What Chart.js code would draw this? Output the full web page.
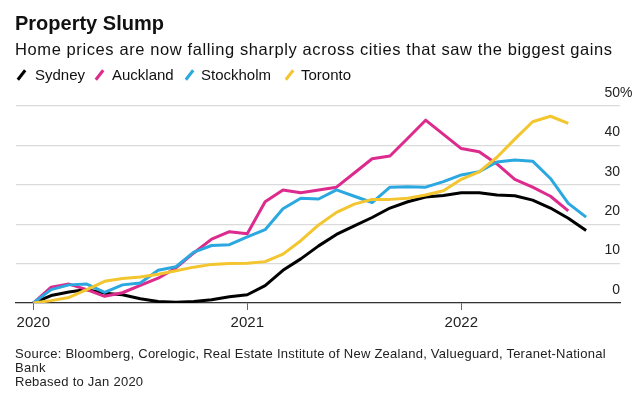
<!DOCTYPE html>
<html><head><meta charset="utf-8">
<script src="https://cdn.jsdelivr.net/npm/chart.js@4"></script>
<style>
html,body{margin:0;padding:0;background:#fff;}
#wrap{position:relative;width:638px;height:398px;overflow:hidden;font-family:"Liberation Sans",Arial,sans-serif;color:#111;}
canvas{position:absolute;left:0;top:0;}
.t{position:absolute;white-space:nowrap;line-height:1.15;}
#title{left:15px;top:12px;font-size:20px;font-weight:bold;}
#sub{left:15px;top:40px;font-size:16.5px;letter-spacing:0.6px;}
.lg{top:66px;font-size:15px;}
.mk{position:absolute;top:69px;width:3px;height:12px;transform:rotate(38deg);}
#src{left:15px;top:346.5px;font-size:13px;line-height:14.3px;letter-spacing:0.25px;color:#222;}
</style></head>
<body><div id="wrap">
<canvas id="c" width="638" height="398"></canvas>
<div id="title" class="t">Property Slump</div>
<div id="sub" class="t">Home prices are now falling sharply across cities that saw the biggest gains</div>
<div id="legend"></div>
<div id="src" class="t">Source: Bloomberg, Corelogic, Real Estate Institute of New Zealand, Valueguard, Teranet-National<br>Bank<br>Rebased to Jan 2020</div>
</div>
<script>
// Months Jan 2020 .. Aug 2022
const months = ['2020-01','2020-02','2020-03','2020-04','2020-05','2020-06','2020-07','2020-08','2020-09','2020-10','2020-11','2020-12',
 '2021-01','2021-02','2021-03','2021-04','2021-05','2021-06','2021-07','2021-08','2021-09','2021-10','2021-11','2021-12',
 '2022-01','2022-02','2022-03','2022-04','2022-05','2022-06','2022-07','2022-08'];
const sydney = [0,1.9,2.8,3.4,2.5,2.1,1.1,0.4,0.2,0.4,0.8,1.6,2.1,4.4,8.3,11.2,14.5,17.4,19.6,21.7,24.1,25.7,26.9,27.3,28.0,28.0,27.4,27.2,26.1,24.1,21.5,18.4];
const auckland = [0,4.0,4.8,3.4,1.7,2.6,4.5,6.3,8.9,12.7,16.2,18.1,17.6,25.7,28.7,28.0,28.7,29.4,33.0,36.6,37.3,41.8,46.4,42.8,39.2,38.4,35.3,31.4,29.4,27.1,23.4];
const stockholm = [0,3.4,4.6,4.8,2.7,4.6,5.1,8.3,9.2,12.9,14.6,14.8,16.8,18.6,23.9,26.6,26.4,28.7,27.1,25.5,29.4,29.5,29.4,30.8,32.5,33.3,35.8,36.3,36.0,31.6,25.3,21.8];
const toronto = [0,0.6,1.4,3.4,5.5,6.2,6.6,7.3,8.2,9.1,9.8,10.0,10.1,10.5,12.4,15.8,19.8,23.0,25.1,26.3,26.3,26.6,27.4,28.5,31.4,33.3,37.0,41.6,46.0,47.4,45.6];
const seriesNames = ['Sydney','Auckland','Stockholm','Toronto'];
const seriesColors = ['#000000','#dc2a8d','#2aa8df','#f3c52f'];
const yearTicks = [0,12,24];
const yearLabels = ['2020','2021','2022'];
const yTicks = [0,10,20,30,40,50];

// legend (HTML)
const lgPos = [[17,35],[95,112],[185,201],[285,301]];
const legend = document.getElementById('legend');
seriesNames.forEach((n,i)=>{
  const m=document.createElement('div'); m.className='mk';
  m.style.left=(lgPos[i][0]+3)+'px'; m.style.background=seriesColors[i]; legend.appendChild(m);
  const t=document.createElement('div'); t.className='t lg'; t.textContent=n;
  t.style.left=lgPos[i][1]+'px'; legend.appendChild(t);
});

const allSeries=[sydney,auckland,stockholm,toronto];
const datasets = allSeries.map((arr,i)=>({
  label: seriesNames[i],
  data: arr.map((v,k)=>({x:k,y:v})),
  borderColor: seriesColors[i],
  borderWidth: 3,
  pointRadius: 0,
  tension: 0,
  fill:false,
  borderJoinStyle:'round',
  order: 3-i
}));

const yLabelPlugin = {
  id:'yLabels',
  afterDraw(chart){
    const {ctx, scales:{y}, chartArea} = chart;
    ctx.save();
    ctx.font = '14px "Liberation Sans", Arial, sans-serif';
    ctx.fillStyle = '#222';
    ctx.textBaseline = 'middle';
    y.ticks.forEach(t=>{
      const py = y.getPixelForValue(t.value) - 13;
      ctx.textAlign='right';
      ctx.fillText(String(t.value), chartArea.right, py);
      if (t.value===50){ ctx.textAlign='left'; ctx.fillText('%', chartArea.right, py); }
    });
    ctx.restore();
  }
};

new Chart(document.getElementById('c'), {
  type:'line',
  data:{datasets},
  options:{
    responsive:false, animation:false, devicePixelRatio:1,
    layout:{padding:{left:16,right:18,top:106,bottom:0}},
    plugins:{legend:{display:false},tooltip:{enabled:false}},
    scales:{
      x:{type:'linear', min:-0.97, max:32.9,
        afterBuildTicks(s){ s.ticks = yearTicks.map(v=>({value:v})); },
        afterFit(s){ s.height = 95; },
        ticks:{callback:(v)=>yearLabels[yearTicks.indexOf(v)], color:'#222', font:{size:15,family:'"Liberation Sans", Arial, sans-serif'}, padding:4, maxRotation:0},
        grid:{drawOnChartArea:false, drawTicks:true, tickLength:7, color:'#666', lineWidth:1},
        border:{display:true, color:'#333', width:1.2}
      },
      y:{position:'right', min:0, max:50,
        afterBuildTicks(s){ s.ticks = yTicks.map(v=>({value:v})); },
        ticks:{display:false},
        grid:{color:'#dadada', lineWidth:1.2, drawTicks:false},
        border:{display:false}
      }
    }
  },
  plugins:[yLabelPlugin]
});
</script>
</body></html>
